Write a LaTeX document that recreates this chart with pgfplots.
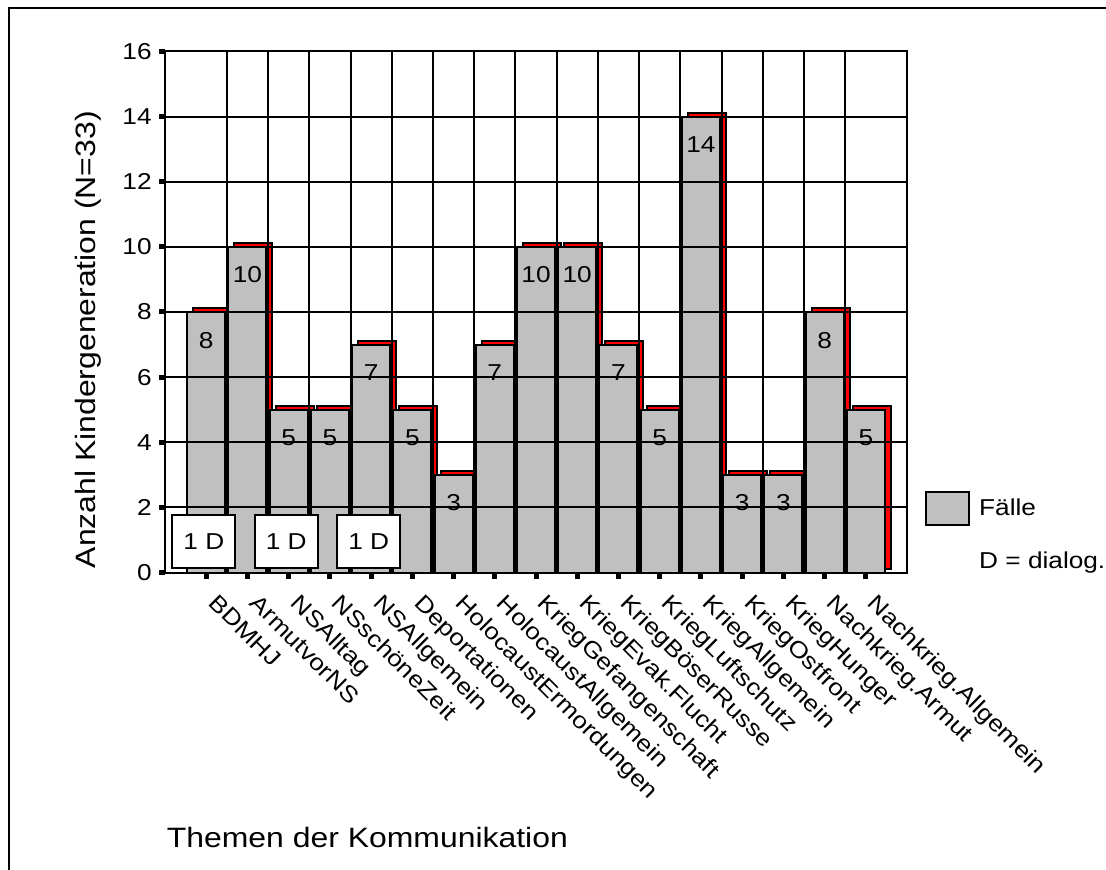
\documentclass[border=0pt]{standalone}
\usepackage{fontspec}
\setmainfont{Liberation Sans}[FakeStretch=1.14]
\usepackage{pgfplots}
\usepackage{pgfplotstable}
\pgfplotsset{compat=1.18}
\definecolor{facegray}{RGB}{192,192,192}
\definecolor{sidered}{RGB}{255,0,0}
\newcommand{\smallfont}{\fontsize{11.5}{13}\selectfont}
\newcommand{\bigfont}{\fontsize{14}{16}\selectfont}

\pgfplotstableread{
x v
1 8
2 10
3 5
4 5
5 7
6 5
7 3
8 7
9 10
10 10
11 7
12 5
13 14
14 3
15 3
16 8
17 5
}\datatable

\begin{document}
\begin{tikzpicture}
\draw[line width=1.3pt] (4.5pt,-436pt) -- (4.5pt,-4pt) -- (554pt,-4pt);
\begin{axis}[
  set layers,
  /pgf/number format/assume math mode=true,
  at={(82.5pt,-286.25pt)}, anchor=south west,
  width=371pt, height=260.5pt, scale only axis,
  xmin=0, xmax=18, ymin=0, ymax=16,
  xtick={1,...,17},
  xticklabels={BDMHJ, ArmutvorNS, NSAlltag, NSschöneZeit, NSAllgemein, Deportationen, HolocaustErmordungen, HolocaustAllgemein, KriegGefangenschaft, KriegEvak.Flucht, KriegBöserRusse, KriegLuftschutz, KriegAllgemein, KriegOstfront, KriegHunger, Nachkrieg.Armut, Nachkrieg.Allgemein},
  ytick={0,2,...,16},
  ymajorgrids,
  extra x ticks={1.5,2.5,...,16.5},
  extra x tick labels={},
  extra x tick style={grid=major, major tick length=0pt},
  grid style={black, line width=1pt},
  axis line style={black, line width=1pt},
  tick style={black, line width=2.5pt},
  major tick length=3pt,
  tick align=outside,
  xtick pos=bottom, ytick pos=left,
  yticklabel style={font=\smallfont, inner sep=0pt, anchor=east, xshift=-3.5pt},
  xticklabel style={font=\smallfont, inner sep=0pt, rotate=-45, anchor=north west, xshift=9.5pt, yshift=-0.5pt},
  ylabel={Anzahl Kindergeneration (N=33)},
  ylabel style={at={(axis description cs:-0.1038,0.447)}, anchor=center, font=\bigfont, inner sep=0pt},
  xlabel={Themen der Kommunikation},
  xlabel style={at={(axis description cs:0.002,-0.528)}, anchor=base west, font=\bigfont, inner sep=0pt},
  legend style={draw=none, fill=none, at={(axis description cs:1.024,0.157)}, anchor=north west, inner sep=0pt, font=\smallfont, row sep=11pt, column sep=2.5pt},
  legend cell align=left,
]
\addplot[on layer=axis background, ybar, bar shift=0pt, bar width=0.92, fill=sidered, draw=black, line width=1pt, xshift=3pt, yshift=2pt, forget plot] table[x=x, y=v] {\datatable};
\addplot[on layer=axis background, ybar, bar shift=0pt, bar width=0.92, fill=facegray, draw=black, line width=1pt,
  nodes near coords, nodes near coords align={below},
  every node near coord/.append style={font=\smallfont, inner sep=0pt, yshift=-9.5pt, text=black},
  legend image code/.code={\draw[fill=facegray, draw=black, line width=1pt] (0pt,-8.25pt) rectangle (21.5pt,8.25pt);}
  ] table[x=x, y=v] {\datatable};
\addlegendentry{Fälle}
\addlegendimage{empty legend}
\addlegendentry{D = dialog.}
\addplot[only marks, mark=none, forget plot, nodes near coords, point meta=explicit symbolic, nodes near coords align={center},
  every node near coord/.append style={draw=black, line width=1pt, fill=white, minimum width=31.5pt, minimum height=26.5pt, inner sep=0pt, font=\smallfont, xshift=-1.2pt}]
  coordinates {(1,0.94) [1 D] (3,0.94) [1 D] (5,0.94) [1 D]};
\end{axis}
\pgfresetboundingbox
\path[use as bounding box] (0,0) rectangle (553pt,-435pt);
\end{tikzpicture}
\end{document}
